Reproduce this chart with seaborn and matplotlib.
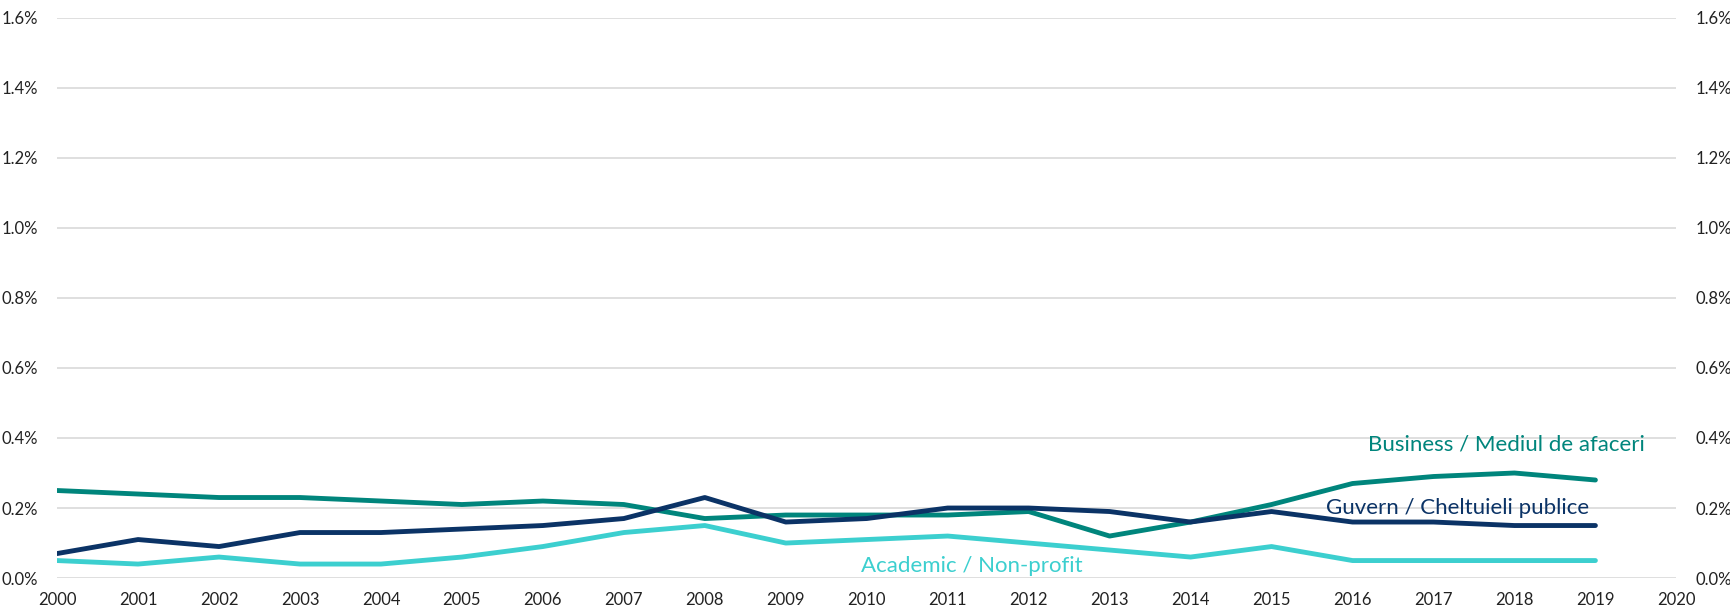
import seaborn as sns
import matplotlib.pyplot as plt
import pandas as pd
from matplotlib.ticker import FuncFormatter

years = list(range(2000, 2020))
business = [0.25, 0.24, 0.23, 0.23, 0.22, 0.21, 0.22, 0.21, 0.17, 0.18,
            0.18, 0.18, 0.19, 0.12, 0.16, 0.21, 0.27, 0.29, 0.30, 0.28]
guvern = [0.07, 0.11, 0.09, 0.13, 0.13, 0.14, 0.15, 0.17, 0.23, 0.16,
          0.17, 0.20, 0.20, 0.19, 0.16, 0.19, 0.16, 0.16, 0.15, 0.15]
academic = [0.05, 0.04, 0.06, 0.04, 0.04, 0.06, 0.09, 0.13, 0.15, 0.10,
            0.11, 0.12, 0.10, 0.08, 0.06, 0.09, 0.05, 0.05, 0.05, 0.05]

series_names = ["Business / Mediul de afaceri", "Guvern / Cheltuieli publice", "Academic / Non-profit"]
colors = ["#00857C", "#0B3366", "#3CCFCF"]

df = pd.DataFrame({
    "an": years * 3,
    "valoare": business + guvern + academic,
    "serie": [series_names[0]] * 20 + [series_names[1]] * 20 + [series_names[2]] * 20,
})

sns.set_style("white")
plt.rcParams["font.family"] = ["Lato", "DejaVu Sans"]

fig = plt.figure(figsize=(17.3, 6.13), dpi=100)
ax = fig.add_axes([0.033, 0.057, 0.936, 0.914])

sns.lineplot(data=df, x="an", y="valoare", hue="serie", palette=colors,
             linewidth=3.5, ax=ax, legend=False)

ax.set_xlim(2000, 2020)
ax.set_ylim(0, 1.6)
ax.set_xticks(range(2000, 2021))
ax.set_yticks([i * 0.2 for i in range(9)])
pct = FuncFormatter(lambda v, p: f"{v:.1f}%")
ax.yaxis.set_major_formatter(pct)
ax.grid(axis="y", color="#d9d9d9", linewidth=1.2)
ax.set_axisbelow(True)
for s in ax.spines.values():
    s.set_visible(False)
ax.tick_params(axis="both", length=0, labelsize=12, colors="#222222")
ax.tick_params(axis="y", pad=14)
ax.tick_params(axis="x", pad=10)
ax.set_xlabel("")
ax.set_ylabel("")

ax2 = ax.twinx()
ax2.set_ylim(0, 1.6)
ax2.set_yticks([i * 0.2 for i in range(9)])
ax2.yaxis.set_major_formatter(pct)
for s in ax2.spines.values():
    s.set_visible(False)
ax2.tick_params(axis="y", length=0, labelsize=12, colors="#222222", pad=14)

ax.text(2017.9, 0.38, series_names[0], color=colors[0], fontsize=16, ha="center", va="center")
ax.text(2017.3, 0.20 - 0.0, series_names[1], color=colors[1], fontsize=16, ha="center", va="center")
ax.text(2011.3, 0.035, series_names[2], color=colors[2], fontsize=16, ha="center", va="center")

fig.savefig("out.png", dpi=100)
